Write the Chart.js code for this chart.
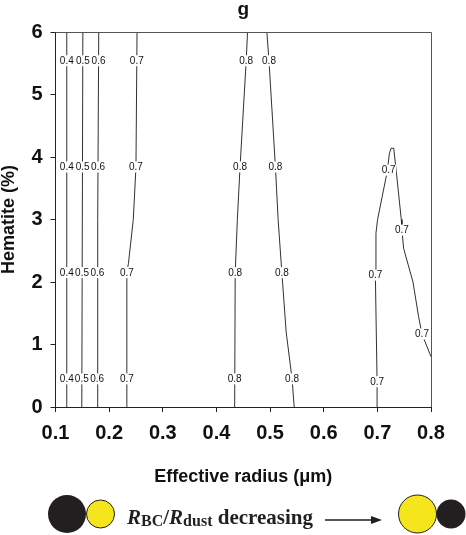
<!DOCTYPE html>
<html>
<head>
<meta charset="utf-8">
<script src="https://cdn.jsdelivr.net/npm/chart.js@4.4.0/dist/chart.umd.min.js"></script>
<style>
  html, body { margin: 0; padding: 0; background: #fff; }
  #wrap { position: relative; width: 466px; height: 535px; }
  #diagram { position: absolute; left: 0; top: 0; width: 466px; height: 535px; pointer-events: none; }
</style>
</head>
<body>
<div id="wrap">
  <canvas id="c" width="466" height="535"></canvas>
  <svg id="diagram" width="466" height="535" xmlns="http://www.w3.org/2000/svg">
    <circle cx="67" cy="514" r="19" fill="#231f20"/>
    <circle cx="100.5" cy="514" r="14" fill="#f5e51d" stroke="#231f20" stroke-width="1"/>
    <text x="127" y="524" font-family="'Liberation Serif', 'Times New Roman', serif" font-weight="bold" font-size="21" fill="#231f20"><tspan font-style="italic">R</tspan><tspan font-size="16" dy="2">BC</tspan><tspan dy="-2">/</tspan><tspan font-style="italic">R</tspan><tspan font-size="16" dy="2">dust</tspan><tspan dy="-2"> decreasing</tspan></text>
    <line x1="325" y1="520" x2="374" y2="520" stroke="#231f20" stroke-width="1.5"/>
    <polygon points="382,520 371,516 371,524" fill="#231f20"/>
    <circle cx="417.5" cy="514" r="19" fill="#f5e51d" stroke="#231f20" stroke-width="1"/>
    <circle cx="451" cy="514" r="14.5" fill="#231f20"/>
  </svg>
</div>
<script>
// ---- axis ticks ----
const xTicks = [0.1, 0.2, 0.3, 0.4, 0.5, 0.6, 0.7, 0.8];
const yTicks = [0, 1, 2, 3, 4, 5, 6];

// ---- contour levels (one per line) ----
const levelLabels = ['0.4', '0.5', '0.6', '0.7', '0.8', '0.8', '0.7'];

// ---- contour lines (x = effective radius, y = hematite %) ----
const line04X = [0.121, 0.121];
const line04Y = [0, 6];
const line05X = [0.149, 0.151];
const line05Y = [0, 6];
const line06X = [0.1774, 0.1787, 0.1806];
const line06Y = [0, 3, 6];
const line07aX = [0.233, 0.233, 0.236, 0.245, 0.250, 0.252];
const line07aY = [0, 2.15, 2.3, 3.0, 3.84, 6];
const line08aX = [0.434, 0.435, 0.439, 0.444, 0.4555, 0.458];
const line08aY = [0, 2.15, 3, 3.84, 5.54, 6];
const line08bX = [0.545, 0.541, 0.530, 0.522, 0.515, 0.510, 0.498, 0.494];
const line08bY = [0, 0.45, 1.2, 2.15, 3.0, 3.84, 5.54, 6];
const line07bX = [0.700, 0.6995, 0.6963, 0.6974, 0.7004, 0.718, 0.7225, 0.7255, 0.7305, 0.735, 0.7446, 0.7459, 0.7489, 0.7664, 0.7769, 0.7832, 0.800];
const line07bY = [0, 0.405, 2.11, 2.78, 3.0, 3.75, 4.06, 4.14, 4.14, 3.79, 3.0, 2.83, 2.54, 2.0, 1.445, 1.168, 0.805];

// ---- contour label positions ----
const label04X = [0.121, 0.121, 0.121, 0.121];
const label04Y = [5.54, 3.84, 2.15, 0.45];
const label05X = [0.151, 0.1505, 0.1495, 0.149];
const label05Y = [5.54, 3.84, 2.15, 0.45];
const label06X = [0.1802, 0.1793, 0.1782, 0.1776];
const label06Y = [5.54, 3.84, 2.15, 0.45];
const label07aX = [0.2515, 0.250, 0.233, 0.233];
const label07aY = [5.54, 3.84, 2.15, 0.45];
const label08aX = [0.4555, 0.444, 0.435, 0.434];
const label08aY = [5.54, 3.84, 2.15, 0.45];
const label08bX = [0.498, 0.510, 0.522, 0.541];
const label08bY = [5.54, 3.84, 2.15, 0.45];
const label07bX = [0.721, 0.7459, 0.6963, 0.7832, 0.6995];
const label07bY = [3.79, 2.83, 2.11, 1.168, 0.405];

const lines = [
  [line04X, line04Y], [line05X, line05Y], [line06X, line06Y], [line07aX, line07aY],
  [line08aX, line08aY], [line08bX, line08bY], [line07bX, line07bY]
];
const labelSets = [
  [label04X, label04Y], [label05X, label05Y], [label06X, label06Y], [label07aX, label07aY],
  [label08aX, label08aY], [label08bX, label08bY], [label07bX, label07bY]
];

const datasets = lines.map((l, i) => ({
  label: 'g = ' + levelLabels[i],
  data: l[0].map((x, k) => ({ x: x, y: l[1][k] })),
  showLine: true,
  borderColor: '#1a1a1a',
  borderWidth: 0.9,
  pointRadius: 0,
  tension: 0,
  fill: false
}));

const contourLabelPlugin = {
  id: 'contourLabels',
  afterDatasetsDraw(chart) {
    const ctx = chart.ctx;
    const xs = chart.scales.x, ys = chart.scales.y;
    ctx.save();
    ctx.font = '10px "Liberation Sans", Arial, sans-serif';
    ctx.textAlign = 'center';
    ctx.textBaseline = 'middle';
    labelSets.forEach((set, i) => {
      const txt = levelLabels[i];
      const w = ctx.measureText(txt).width;
      set[0].forEach((xv, k) => {
        const px = xs.getPixelForValue(xv);
        const py = ys.getPixelForValue(set[1][k]);
        ctx.fillStyle = '#ffffff';
        ctx.fillRect(px - w / 2 - 0.5, py - 5.5, w + 1, 11);
      });
    });
    labelSets.forEach((set, i) => {
      const txt = levelLabels[i];
      set[0].forEach((xv, k) => {
        const px = xs.getPixelForValue(xv);
        const py = ys.getPixelForValue(set[1][k]);
        ctx.fillStyle = '#111111';
        ctx.fillText(txt, px, py + 0.5);
      });
    });
    ctx.restore();
  }
};

const framePlugin = {
  id: 'frame',
  afterDraw(chart) {
    const a = chart.chartArea;
    const ctx = chart.ctx;
    ctx.save();
    ctx.strokeStyle = '#555555';
    ctx.lineWidth = 1;
    ctx.beginPath();
    ctx.moveTo(a.left, a.top + 0.5);
    ctx.lineTo(a.right + 0.5, a.top + 0.5);
    ctx.lineTo(a.right + 0.5, a.bottom);
    ctx.stroke();
    ctx.restore();
  }
};

new Chart(document.getElementById('c'), {
  type: 'scatter',
  data: { datasets: datasets },
  options: {
    responsive: false,
    animation: false,
    devicePixelRatio: 1,
    layout: { padding: { left: 0, right: 35, top: 0, bottom: 0 } },
    plugins: {
      legend: { display: false },
      tooltip: { enabled: false },
      title: {
        display: true,
        text: 'g',
        fullSize: false,
        color: '#111',
        font: { family: '"Liberation Sans", Arial, sans-serif', size: 19, weight: 'bold', lineHeight: 1 },
        padding: { top: 0, bottom: 13 }
      }
    },
    scales: {
      x: {
        type: 'linear',
        min: 0.1, max: 0.8,
        afterBuildTicks(scale) { scale.ticks = xTicks.map(v => ({ value: v })); },
        afterFit(scale) { scale.height = 128; },
        ticks: {
          color: '#111',
          padding: 9,
          font: { family: '"Liberation Sans", Arial, sans-serif', size: 20, weight: 'bold' },
          callback: v => v.toFixed(1)
        },
        grid: { drawOnChartArea: false, drawTicks: true, tickLength: 5, tickColor: '#222', tickWidth: 1 },
        border: { display: true, color: '#222', width: 1 },
        title: {
          display: true,
          text: 'Effective radius (\u03bcm)',
          color: '#111',
          font: { family: '"Liberation Sans", Arial, sans-serif', size: 18, weight: 'bold', lineHeight: 1.2 },
          padding: { top: 0, bottom: 47 }
        }
      },
      y: {
        type: 'linear',
        min: 0, max: 6,
        afterBuildTicks(scale) { scale.ticks = yTicks.map(v => ({ value: v })); },
        afterFit(scale) { scale.width = 55.5; },
        ticks: {
          color: '#111',
          padding: 8,
          font: { family: '"Liberation Sans", Arial, sans-serif', size: 20, weight: 'bold' }
        },
        grid: { drawOnChartArea: false, drawTicks: true, tickLength: 5, tickColor: '#222', tickWidth: 1 },
        border: { display: true, color: '#222', width: 1 },
        title: {
          display: true,
          text: 'Hematite (%)',
          color: '#111',
          font: { family: '"Liberation Sans", Arial, sans-serif', size: 18, weight: 'bold', lineHeight: 1 },
          padding: { top: 0, bottom: 0 }
        }
      }
    }
  },
  plugins: [contourLabelPlugin, framePlugin]
});
</script>
</body>
</html>
